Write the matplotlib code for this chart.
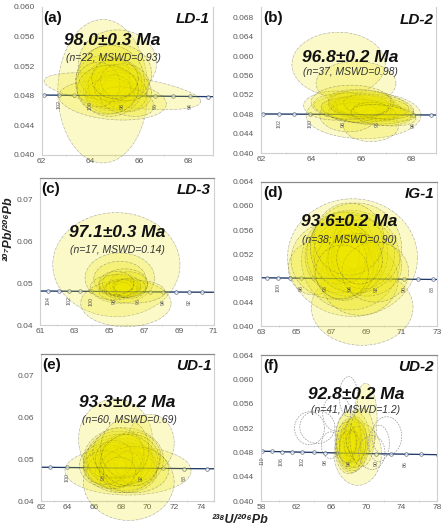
import matplotlib.pyplot as plt
import numpy as np
from matplotlib.patches import Polygon
from matplotlib.ticker import FormatStrFormatter, MultipleLocator

plt.rcParams['font.family'] = ['Liberation Sans', 'DejaVu Sans']

# concordia age marks: age (Ma), 238U/206Pb, 207Pb/206Pb
conc_age = [110, 109, 108, 107, 106, 105, 104, 103, 102, 101, 100, 99, 98, 97, 96,
            95, 94, 93, 92, 91, 90, 89, 88, 87, 86, 85, 84, 83, 82]
conc_x = [58.106, 58.642, 59.190, 59.748, 60.316, 60.896, 61.486, 62.088, 62.701, 63.327,
          63.966, 64.616, 65.281, 65.959, 66.651, 67.358, 68.080, 68.817, 69.571, 70.341,
          71.128, 71.933, 72.756, 73.598, 74.459, 75.341, 76.244, 77.169, 78.116]
conc_y = [0.04822, 0.04820, 0.04818, 0.04816, 0.04814, 0.04812, 0.04810, 0.04808, 0.04806,
          0.04804, 0.04802, 0.04800, 0.04798, 0.04796, 0.04794, 0.04791, 0.04789, 0.04787,
          0.04785, 0.04783, 0.04781, 0.04779, 0.04777, 0.04775, 0.04773, 0.04771, 0.04769,
          0.04767, 0.04765]

# error ellipses: x, x half-axis, y, y half-axis, correlation
ld1_x = [64.5, 65.1, 65.3, 64.9, 64.9, 64.8, 65.1, 64.6, 65.2, 64.9, 64.5, 65.4, 65.0, 64.8,
         65.1, 64.8, 65.5, 64.3, 64.9, 65.4, 64.7, 65.0]
ld1_sx = [1.84, 1.60, 3.20, 2.20, 1.20, 0.90, 1.00, 0.80, 1.30, 0.70, 1.10, 0.90, 1.50, 1.00,
          0.80, 1.40, 1.10, 0.90, 0.75, 1.00, 1.25, 0.95]
ld1_y = [0.0486, 0.0524, 0.0486, 0.0474, 0.0495, 0.0492, 0.0500, 0.0488, 0.0490, 0.0497,
         0.0505, 0.0485, 0.0510, 0.0480, 0.0495, 0.0500, 0.0472, 0.0495, 0.0490, 0.0498,
         0.0488, 0.0503]
ld1_sy = [0.0097, 0.0045, 0.0025, 0.0027, 0.0035, 0.0030, 0.0028, 0.0025, 0.0032, 0.0022,
          0.0030, 0.0026, 0.0040, 0.0024, 0.0020, 0.0048, 0.0020, 0.0030, 0.0018, 0.0025,
          0.0033, 0.0027]
ld1_r = [0.0, 0.0, -0.55, -0.2, 0.1, 0.0, -0.1, 0.0, -0.2, 0.0, 0.1, -0.1, 0.0, 0.0, 0.0,
         0.0, -0.3, 0.0, 0.0, -0.1, 0.0, 0.0]

ld2_x = [65.1, 65.8, 66.1, 66.4, 65.5, 65.0, 66.5, 66.2, 66.0, 66.4, 65.9, 66.3, 66.1, 66.6,
         65.8, 66.2, 66.0, 66.5, 66.3, 65.7, 66.1, 66.7, 66.0, 66.4, 65.6, 66.9]
ld2_sx = [1.87, 1.60, 2.30, 1.10, 1.15, 1.30, 1.70, 1.50, 1.20, 1.00, 0.90, 1.30, 0.80, 1.20,
          1.40, 1.80, 1.10, 0.90, 1.60, 1.00, 2.00, 1.40, 1.30, 0.70, 1.60, 1.30]
ld2_y = [0.0583, 0.0544, 0.0478, 0.0456, 0.0478, 0.0498, 0.0488, 0.0492, 0.0490, 0.0487,
         0.0494, 0.0495, 0.0486, 0.0490, 0.0489, 0.0485, 0.0498, 0.0483, 0.0501, 0.0484,
         0.0492, 0.0496, 0.0503, 0.0491, 0.0505, 0.0478]
ld2_sy = [0.0066, 0.0045, 0.0048, 0.0032, 0.0034, 0.0030, 0.0022, 0.0025, 0.0020, 0.0018,
          0.0017, 0.0024, 0.0015, 0.0020, 0.0026, 0.0028, 0.0022, 0.0018, 0.0030, 0.0020,
          0.0032, 0.0026, 0.0027, 0.0014, 0.0035, 0.0022]
ld2_r = [0.0, 0.0, 0.0, 0.0, 0.0, 0.0, -0.5, -0.3, -0.2, -0.3, 0.0, -0.2, 0.0, -0.4, -0.2,
         -0.4, 0.0, -0.2, -0.3, 0.0, -0.3, -0.3, 0.0, 0.0, 0.0, -0.3]

ld3_x = [65.4, 65.6, 65.6, 65.95, 66.3, 65.3, 65.8, 66.0, 65.6, 65.9, 65.7, 66.1, 65.5, 65.9,
         66.2, 65.8, 65.4]
ld3_sx = [3.66, 2.00, 1.50, 2.60, 1.90, 1.40, 1.00, 0.80, 1.20, 0.70, 0.90, 1.10, 0.80, 1.30,
          0.90, 0.60, 1.00]
ld3_y = [0.0544, 0.0512, 0.0510, 0.0452, 0.0480, 0.0490, 0.0488, 0.0492, 0.0495, 0.0485,
         0.0490, 0.0497, 0.0484, 0.0500, 0.0488, 0.0493, 0.0500]
ld3_sy = [0.0124, 0.0060, 0.0042, 0.0056, 0.0028, 0.0030, 0.0022, 0.0018, 0.0026, 0.0016,
          0.0020, 0.0030, 0.0020, 0.0034, 0.0024, 0.0015, 0.0028]
ld3_r = [0.0] * 17

ig1_x = [68.2, 68.75, 66.0, 68.1, 68.6, 67.6, 69.0, 67.8, 68.0, 67.5, 68.3, 67.9, 68.5, 67.3,
         68.1, 67.7, 68.8, 67.2, 68.4, 67.9, 69.5, 68.0, 67.6, 68.6]
ig1_sx = [3.7, 2.9, 1.45, 2.8, 2.2, 1.8, 2.0, 1.5, 1.2, 2.0, 1.6, 2.3, 1.4, 1.3, 1.0, 1.7,
          1.8, 2.5, 2.6, 1.1, 1.9, 2.0, 1.5, 1.3]
ig1_y = [0.0514, 0.0431, 0.0496, 0.0510, 0.0478, 0.0535, 0.0500, 0.0525, 0.0530, 0.0515,
         0.0505, 0.0520, 0.0540, 0.0520, 0.0528, 0.0498, 0.0520, 0.0510, 0.0530, 0.0512,
         0.0490, 0.0545, 0.0490, 0.0512]
ig1_sy = [0.0098, 0.0063, 0.0044, 0.0083, 0.0060, 0.0055, 0.0050, 0.0045, 0.0040, 0.0060,
          0.0050, 0.0070, 0.0045, 0.0050, 0.0035, 0.0055, 0.0058, 0.0065, 0.0075, 0.0040,
          0.0050, 0.0060, 0.0045, 0.0042]
ig1_r = [0.0] * 24

ud1_x = [68.54, 67.6, 68.6, 70.25, 68.2, 67.5, 68.0, 67.8, 68.3, 67.2, 68.6, 67.9, 68.1, 67.4,
         68.8, 67.7, 68.4, 67.0, 68.9, 67.6, 68.2, 67.3, 69.2, 68.0, 67.8, 68.5, 66.8, 69.0,
         67.5, 68.3, 67.9, 68.7]
ud1_sx = [4.73, 2.77, 3.4, 1.76, 3.0, 2.2, 1.8, 1.5, 2.0, 1.6, 1.4, 2.5, 1.2, 1.9, 1.7, 1.3,
          2.3, 1.5, 2.1, 1.1, 1.6, 2.4, 1.5, 2.8, 1.9, 1.0, 1.6, 2.6, 1.4, 1.8, 1.2, 2.2]
ud1_y = [0.04725, 0.0547, 0.0445, 0.0539, 0.0500, 0.0490, 0.0485, 0.0480, 0.0495, 0.0488,
         0.0478, 0.0502, 0.0483, 0.0475, 0.0490, 0.0492, 0.0470, 0.0495, 0.0505, 0.0478,
         0.0510, 0.0485, 0.0482, 0.0490, 0.0515, 0.0488, 0.0480, 0.0475, 0.0500, 0.0525,
         0.0470, 0.0498]
ud1_sy = [0.0058, 0.0097, 0.0091, 0.0068, 0.0075, 0.0060, 0.0050, 0.0040, 0.0055, 0.0045,
          0.0038, 0.0065, 0.0035, 0.0042, 0.0048, 0.0036, 0.0050, 0.0040, 0.0060, 0.0030,
          0.0050, 0.0055, 0.0045, 0.0070, 0.0060, 0.0030, 0.0040, 0.0055, 0.0045, 0.0070,
          0.0035, 0.0062]
ud1_r = [0.0] * 32

ud2_x = [69.9, 69.0, 68.5, 68.2, 68.0, 68.4, 67.9, 68.6, 68.1, 68.3, 67.8, 68.7, 68.2, 68.0,
         68.5, 68.1, 68.4, 67.7, 68.9, 68.3, 69.5]
ud2_sx = [1.3, 2.7, 1.6, 1.2, 1.0, 0.9, 1.4, 1.1, 0.8, 1.8, 0.9, 1.3, 0.7, 1.5, 0.9, 1.2,
          2.0, 1.1, 1.0, 0.6, 1.4]
ud2_y = [0.0535, 0.0478, 0.0495, 0.0500, 0.0495, 0.0490, 0.0505, 0.0485, 0.0498, 0.0492,
         0.0488, 0.0502, 0.0493, 0.0480, 0.0508, 0.0486, 0.0500, 0.0497, 0.0495, 0.0498,
         0.0505]
ud2_sy = [0.0059, 0.0052, 0.0040, 0.0035, 0.0030, 0.0028, 0.0042, 0.0030, 0.0025, 0.0045,
          0.0027, 0.0038, 0.0020, 0.0035, 0.0030, 0.0032, 0.0050, 0.0033, 0.0028, 0.0018,
          0.0048]
ud2_r = [0.0] * 21
# rejected analyses of UD-2 (dashed, unfilled)
ud2_rej_x = [67.95, 63.5, 64.4, 65.9, 72.3, 71.4, 66.6, 70.6]
ud2_rej_sx = [1.05, 1.7, 2.0, 1.05, 1.7, 1.2, 1.6, 1.5]
ud2_rej_y = [0.0572, 0.0520, 0.0522, 0.0492, 0.0507, 0.0495, 0.0545, 0.0480]
ud2_rej_sy = [0.0033, 0.0027, 0.0027, 0.0022, 0.0032, 0.0030, 0.0030, 0.0028]

tags = ['(a)', '(b)', '(c)', '(d)', '(e)', '(f)']
samples = ['LD-1', 'LD-2', 'LD-3', 'IG-1', 'UD-1', 'UD-2']
ages = ['98.0±0.3 Ma', '96.8±0.2 Ma', '97.1±0.3 Ma', '93.6±0.2 Ma', '93.3±0.2 Ma', '92.8±0.2 Ma']
stats = ['(n=22, MSWD=0.93)', '(n=37, MSWD=0.98)', '(n=17, MSWD=0.14)',
         '(n=38; MSWD=0.90)', '(n=60, MSWD=0.69)', '(n=41, MSWD=1.2)']

ellipses = [
    (ld1_x, ld1_sx, ld1_y, ld1_sy, ld1_r),
    (ld2_x, ld2_sx, ld2_y, ld2_sy, ld2_r),
    (ld3_x, ld3_sx, ld3_y, ld3_sy, ld3_r),
    (ig1_x, ig1_sx, ig1_y, ig1_sy, ig1_r),
    (ud1_x, ud1_sx, ud1_y, ud1_sy, ud1_r),
    (ud2_x, ud2_sx, ud2_y, ud2_sy, ud2_r),
]

# layout / axis settings per panel
positions = [[0.093, 0.709, 0.382, 0.278], [0.583, 0.712, 0.390, 0.274],
             [0.089, 0.389, 0.388, 0.276], [0.583, 0.387, 0.392, 0.271],
             [0.091, 0.058, 0.387, 0.276], [0.583, 0.058, 0.392, 0.274]]
xlims = [(62, 69), (62, 69), (61, 71), (63, 73), (62, 75), (58, 78)]
ylims = [(0.040, 0.060), (0.040, 0.070), (0.04, 0.075), (0.040, 0.064), (0.04, 0.075), (0.040, 0.064)]
xticks = [[62, 64, 66, 68], [62, 64, 66, 68], [61, 63, 65, 67, 69, 71], [63, 65, 67, 69, 71, 73],
          [62, 64, 66, 68, 70, 72, 74], [58, 62, 66, 70, 74, 78]]
yticks = [[0.040, 0.044, 0.048, 0.052, 0.056, 0.060],
          [0.040, 0.044, 0.048, 0.052, 0.056, 0.060, 0.064, 0.068],
          [0.04, 0.05, 0.06, 0.07],
          [0.040, 0.044, 0.048, 0.052, 0.056, 0.060, 0.064],
          [0.04, 0.05, 0.06, 0.07],
          [0.040, 0.044, 0.048, 0.052, 0.056, 0.060, 0.064]]
yfmt = ['%.3f', '%.3f', '%.2f', '%.3f', '%.2f', '%.3f']
mark_step = [1, 1, 1, 1, 2, 2]
label_ages = [[102, 100, 98, 96, 94], [102, 100, 98, 96, 94], [104, 102, 100, 98, 96, 94, 92],
              [100, 98, 96, 94, 92, 90, 88], [100, 96, 92, 88], [110, 106, 102, 98, 94, 90, 86]]
age_pos = [(0.41, 0.77), (0.51, 0.655), (0.445, 0.63), (0.50, 0.728), (0.50, 0.672), (0.54, 0.733)]
stat_pos = [(0.42, 0.655), (0.51, 0.556), (0.445, 0.51), (0.50, 0.596), (0.51, 0.552), (0.54, 0.623)]

fill = (0.93, 0.9, 0.0, 0.22)
edge = (0.25, 0.25, 0.25, 0.5)
dashdot = (0, (4, 1.5, 1, 1.5))


def outline(x, sx, y, sy, r):
    t = np.linspace(0, 2 * np.pi, 100)
    ex = x + sx * np.cos(t)
    ey = y + sy * (r * np.cos(t) + np.sqrt(1 - r ** 2) * np.sin(t))
    return np.column_stack([ex, ey])


fig = plt.figure(figsize=(4.48, 5.32), dpi=100)

for i in range(6):
    ax = fig.add_axes(positions[i])
    ax.set_xlim(*xlims[i])
    ax.set_ylim(*ylims[i])

    # concordia curve with age marks
    ax.plot(conc_x, conc_y, color='#1f3a68', lw=0.9, zorder=2)
    ax.plot(conc_x, conc_y, color='#1f3a68', lw=0.8, alpha=0.3, zorder=4)
    mx = [cx for a, cx in zip(conc_age, conc_x) if a % mark_step[i] == 0]
    my = [cy for a, cy in zip(conc_age, conc_y) if a % mark_step[i] == 0]
    ax.plot(mx, my, 'o', ms=2.6, mfc='white', mec='#5a6a88', mew=0.5, zorder=2.5)
    for a, cx, cy in zip(conc_age, conc_x, conc_y):
        if a in label_ages[i] and xlims[i][0] < cx < xlims[i][1]:
            ax.annotate(str(a), (cx, cy), xytext=(0, -7), textcoords='offset points',
                        rotation=90, fontsize=3.8, color='#555555',
                        ha='center', va='center', zorder=5)

    # error ellipses
    ex, esx, ey, esy, er = ellipses[i]
    for j in range(len(ex)):
        p = Polygon(outline(ex[j], esx[j], ey[j], esy[j], er[j]), closed=True,
                    fc=fill, ec=edge, lw=0.4, ls=dashdot, clip_on=False, zorder=3)
        ax.add_patch(p)
    if i == 5:
        for j in range(len(ud2_rej_x)):
            p = Polygon(outline(ud2_rej_x[j], ud2_rej_sx[j], ud2_rej_y[j], ud2_rej_sy[j], 0.0),
                        closed=True, fc='none', ec='#9a9a9a', lw=0.5, ls=(0, (2.5, 1.5)),
                        clip_on=False, zorder=3)
            ax.add_patch(p)

    ax.set_xticks(xticks[i])
    ax.set_yticks(yticks[i])
    ax.yaxis.set_major_formatter(FormatStrFormatter(yfmt[i]))
    ax.xaxis.set_minor_locator(MultipleLocator((xticks[i][1] - xticks[i][0]) / 2))
    ax.tick_params(axis='both', which='major', length=0, labelsize=6, labelcolor='#595959')
    ax.tick_params(axis='x', which='major', pad=2)
    ax.tick_params(axis='y', which='major', pad=5)
    ax.tick_params(axis='x', which='minor', length=2, color='#d0d0d0', direction='inout')
    for s in ['left', 'bottom', 'right']:
        ax.spines[s].set_color('#cfcfcf')
        ax.spines[s].set_linewidth(0.8)
    if i < 2:
        ax.spines['top'].set_visible(False)
    else:
        ax.spines['top'].set_color('#8a8a8a')
        ax.spines['top'].set_linewidth(0.9)

    ax.text(0.01, 0.975, tags[i], transform=ax.transAxes, ha='left', va='top',
            fontsize=11, fontweight='bold', color='#111111', zorder=6)
    ax.text(0.985, 0.965, samples[i], transform=ax.transAxes, ha='right', va='top',
            fontsize=11, fontweight='bold', fontstyle='italic', color='#111111', zorder=6)
    ax.text(age_pos[i][0], age_pos[i][1], ages[i], transform=ax.transAxes, ha='center',
            va='center', fontsize=12.5, fontweight='bold', fontstyle='italic',
            color='#111111', zorder=6)
    ax.text(stat_pos[i][0], stat_pos[i][1], stats[i], transform=ax.transAxes, ha='center',
            va='center', fontsize=7.5, fontstyle='italic', color='#333333', zorder=6)

fig.text(0.018, 0.571, '²⁰⁷Pb/²⁰⁶Pb', rotation=90, ha='center', va='center',
         fontsize=9, fontweight='bold', fontstyle='italic', color='#222222')
fig.text(0.536, 0.023, '²³⁸U/²⁰⁶Pb', ha='center', va='center',
         fontsize=9, fontweight='bold', fontstyle='italic', color='#222222')

fig.savefig('out.png', dpi=100)
